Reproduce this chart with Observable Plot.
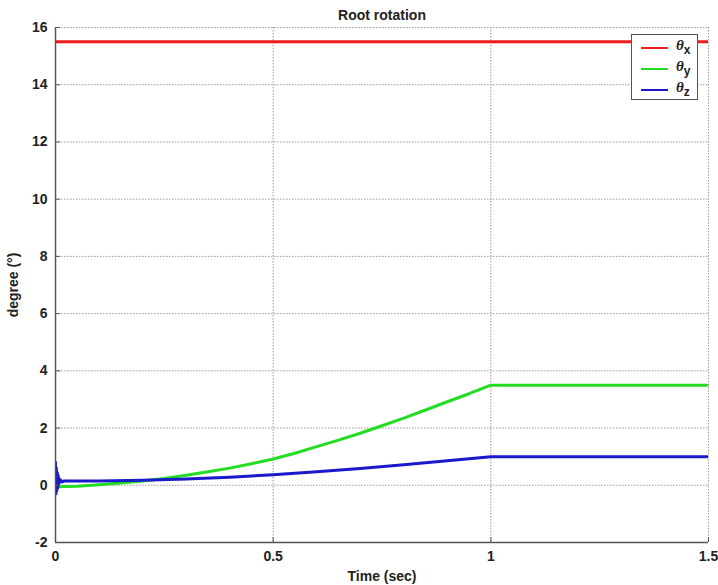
<!DOCTYPE html>
<html>
<head>
<meta charset="utf-8">
<script src="https://cdn.jsdelivr.net/npm/d3@7"></script>
<script src="https://cdn.jsdelivr.net/npm/@observablehq/plot@0.6"></script>
<style>
  html, body { margin: 0; padding: 0; background: #fff; }
  #wrap { position: relative; width: 718px; height: 585px; }
  #legend { position: absolute; left: 631px; top: 34px; width: 67px; height: 66px;
    border: 1px solid #555; background: #fff; box-sizing: border-box;
    font-family: "Liberation Serif", serif; }
  .row { position: absolute; left: 0; height: 20px; width: 100%; }
  .sw { position: absolute; left: 9px; top: 9px; width: 27px; height: 2px; }
  .lab { position: absolute; left: 44px; top: -1px; font-style: italic; font-weight: bold; font-size: 15px; color: #222; }
  .lab sub { font-style: normal; font-family: "Liberation Sans", sans-serif; font-size: 12px; font-weight: bold; }
</style>
</head>
<body>
<div id="wrap"></div>
<script>
const xTicks = [0, 0.5, 1, 1.5];
const yTicks = [-2, 0, 2, 4, 6, 8, 10, 12, 14, 16];

const timeX = [0, 1.5];
const thetaX = [15.5, 15.5];

const timeY = [0, 0.05, 0.1, 0.15, 0.2, 0.25, 0.3, 0.35, 0.4, 0.45, 0.5, 0.55, 0.6, 0.65, 0.7, 0.75, 0.8, 0.85, 0.9, 0.95, 1.0, 1.5];
const thetaY = [-0.05, -0.03, 0.02, 0.08, 0.15, 0.24, 0.35, 0.47, 0.6, 0.75, 0.92, 1.12, 1.35, 1.58, 1.82, 2.08, 2.35, 2.63, 2.92, 3.2, 3.5, 3.5];

const timeZ = [0, 0.001, 0.002, 0.003, 0.004, 0.005, 0.006, 0.007, 0.008, 0.01, 0.012, 0.015, 0.02, 0.1, 0.2, 0.3, 0.4, 0.5, 0.6, 0.7, 0.8, 0.9, 1.0, 1.5];
const thetaZ = [0.8, -0.3, 0.6, -0.2, 0.45, -0.1, 0.35, 0.0, 0.25, 0.1, 0.18, 0.12, 0.15, 0.15, 0.18, 0.22, 0.28, 0.37, 0.47, 0.59, 0.72, 0.86, 1.0, 1.0];

const series = [
  {name: "x", t: timeX, v: thetaX, color: "#ee1c1c"},
  {name: "y", t: timeY, v: thetaY, color: "#22dd22"},
  {name: "z", t: timeZ, v: thetaZ, color: "#1a1acc"}
];
const rows = series.flatMap(s => s.t.map((t, i) => ({t, v: s.v[i], name: s.name})));

const font = "'Liberation Sans Narrow', 'Liberation Sans', Arial, sans-serif";

const chart = Plot.plot({
  width: 718,
  height: 585,
  marginLeft: 55,
  marginRight: 10,
  marginTop: 27,
  marginBottom: 43,
  style: {fontFamily: font, fontSize: "14px", fontWeight: "bold", color: "#222", background: "#fff"},
  x: {domain: [0, 1.5], ticks: xTicks},
  y: {domain: [-2, 16], ticks: yTicks},
  color: {domain: series.map(s => s.name), range: series.map(s => s.color)},
  marks: [
    Plot.ruleY(yTicks, {stroke: "#999", strokeDasharray: "1.5,1.5", strokeWidth: 1}),
    Plot.ruleX(xTicks, {stroke: "#999", strokeDasharray: "1.5,1.5", strokeWidth: 1}),
    Plot.line(rows, {x: "t", y: "v", z: "name", stroke: "name", strokeWidth: 3, clip: true}),
    Plot.axisX({ticks: xTicks, tickSize: -5, tickPadding: 14, tickFormat: d => String(d), stroke: "#555",
      label: "Time (sec)", labelAnchor: "center", labelArrow: "none", labelOffset: 38, fontSize: 14}),
    Plot.axisY({ticks: yTicks, tickSize: -5, tickPadding: 13, tickFormat: d => String(d), stroke: "#555",
      label: "degree (°)", labelAnchor: "center", labelArrow: "none", labelOffset: 47, fontSize: 14}),
    Plot.ruleX([0], {stroke: "#555", strokeWidth: 1.5}),
    Plot.ruleY([-2], {stroke: "#555", strokeWidth: 1.5}),
    Plot.text(["Root rotation"], {frameAnchor: "top", dy: -17, fontSize: 14, fontWeight: "bold", fill: "#222"})
  ]
});
document.getElementById("wrap").appendChild(chart);

const leg = document.createElement("div");
leg.id = "legend";
series.forEach((s, i) => {
  const r = document.createElement("div");
  r.className = "row";
  r.style.top = (3 + i * 21) + "px";
  r.innerHTML = `<div class="sw" style="background:${s.color}"></div><div class="lab">θ<sub>${s.name}</sub></div>`;
  leg.appendChild(r);
});
document.getElementById("wrap").appendChild(leg);
</script>
</body>
</html>
